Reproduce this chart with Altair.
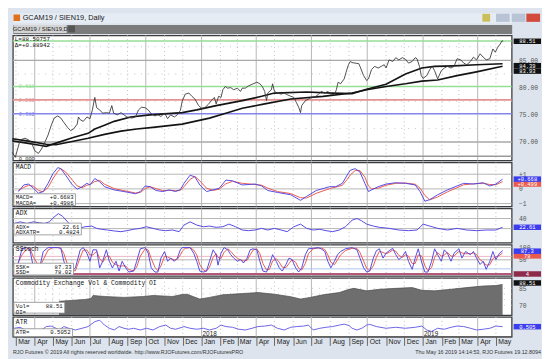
import altair as alt
import pandas as pd

# ---------------- data (x stored as calendar days counted from 2018-01-01) ----------------
price_day = [-312,-307,-299,-291,-285,-280,-275,-269,-264,-259,
             -253,-248,-243,-237,-232,-227,-221,-216,-211,-205,
             -203,-200,-195,-189,-184,-180,-176,-173,-168,-163,
             -157,-152,-148,-145,-139,-133,-128,-123,-115,-109,
             -104,-99,-93,-88,-83,-77,-72,-67,-61,-56,
             -51,-45,-40,-35,-32,-27,-21,-16,-11,-5,
             0,5,11,16,21,24,28,32,35,39,
             43,48,53,59,64,67,72,77,83,91,
             96,100,104,107,109,115,117,120,125,131,
             136,141,147,152,156,160,163,165,171,176,
             181,187,192,197,203,208,213,219,222,225,
             229,235,238,242,245,248,253,259,261,267,
             272,275,280,285,291,296,301,304,309,315,
             320,325,331,336,341,347,352,355,359,362,
             365,371,376,380,384,389,395,400,405,411,
             416,421,427,432,437,443,448,453,459,464,
             469,475,480,484,488,492,495,497]
price_val = [68.1,67.2,70.4,70.7,70.4,69.8,68.4,67.9,68.7,69.8,
             71.3,73.0,74.4,74.8,74.4,73.6,72.7,72.1,72.4,73.3,
             74.6,74.1,73.8,74.6,74.3,75.9,78.2,76.3,75.9,75.3,
             75.4,75.3,76.7,75.3,75.0,75.4,75.0,74.6,74.4,74.6,
             75.9,76.4,76.3,75.9,75.2,74.8,75.0,74.7,75.3,74.3,
             75.0,74.6,75.0,75.8,77.5,78.8,79.0,78.4,77.9,76.7,
             76.2,76.3,76.9,77.6,78.2,77.0,78.4,78.2,79.6,80.2,
             79.9,80.0,79.6,79.9,79.3,79.9,79.9,80.3,80.6,81.0,
             80.7,80.2,79.3,77.6,79.0,79.6,80.7,79.3,79.0,78.8,
             79.0,78.7,78.4,78.2,77.3,76.4,75.4,76.7,77.6,77.9,
             78.2,78.3,78.7,79.3,79.0,79.3,78.8,78.7,79.6,81.0,
             80.7,81.6,82.8,84.2,84.8,84.6,84.5,84.4,83.9,82.2,
             81.3,81.6,83.3,83.9,83.6,83.9,84.2,83.6,85.1,84.8,
             85.5,85.1,85.5,85.2,84.5,84.8,85.5,85.3,83.9,82.2,
             81.7,82.2,83.3,83.9,83.1,81.6,83.1,83.6,83.9,83.6,
             83.9,85.3,85.1,84.5,84.2,84.8,85.6,85.1,86.2,85.6,
             85.1,85.3,87.1,86.5,87.4,88.0,88.6,88.51]

ma_fast_day = [-312,-288,-267,-256,-240,-213,-187,-176,-160,-144,
               -117,-85,-32,-8,24,67,99,120,173,216,
               248,272,304,336,363,384,416,453,496]
ma_fast_val = [70.2,69.8,69.4,69.2,69.8,70.8,71.6,72.4,73.1,73.8,
               74.6,75.0,75.4,75.9,76.7,77.6,78.4,79.0,79.2,79.0,
               78.9,79.7,80.6,82.5,83.6,83.9,84.0,84.2,84.39]
ma_slow_day = [-312,-288,-256,-240,-187,-160,-133,-107,-80,-32,
               13,40,67,104,147,200,248,272,304,336,
               363,389,421,453,496]
ma_slow_val = [70.6,70.2,69.6,69.5,70.7,71.4,72.0,72.4,72.7,73.3,
               74.4,75.3,76.2,77.0,77.9,78.4,79.0,79.6,80.2,80.7,
               81.2,81.4,82.2,82.9,83.93]

fib_names = ["0.000", "0.382", "0.500", "0.618"]
fib_values = [67.4, 75.2, 77.75, 80.2]
fib_colors = ["#9a9a9a", "#8585ee", "#e59292", "#96de96"]
top_green = 88.55
price_solid_grid = [70, 85]
price_dot_grid = [72.5, 77.5, 82.5, 87.5]
price_ticks = [70, 75, 80, 85]

macd_day = [-302,-293,-285,-277,-269,-261,-253,-245,-237,-232,
            -224,-213,-205,-197,-189,-184,-176,-168,-160,-144,
            -128,-109,-101,-93,-85,-75,-64,-53,-43,-35,
            -29,-19,-11,-3,8,19,29,40,51,67,
            88,99,109,125,147,163,173,189,211,221,
            232,240,245,253,261,269,275,280,291,304,
            320,336,352,360,368,376,389,405,421,432,
            448,464,475,485,496]
macd_val = [-0.18,0.27,0.33,0.04,-0.29,-0.18,0.38,1.04,1.45,1.38,
            0.93,0.27,-0.02,0.15,0.38,0.27,0.71,0.49,0.15,-0.07,
            -0.18,-0.33,-0.18,0.20,0.15,-0.11,-0.18,-0.07,-0.18,-0.05,
            0.38,0.93,0.82,0.27,-0.18,-0.07,0.04,0.60,0.55,0.27,
            0.33,0.20,-0.11,-0.24,-0.40,-0.78,-0.51,-0.11,0.15,0.15,
            0.38,0.95,1.27,1.38,1.15,0.38,-0.18,-0.07,0.15,0.33,
            0.42,0.38,0.27,-0.18,-0.84,-0.73,-0.40,-0.07,0.20,0.38,
            0.33,0.42,0.20,0.33,0.6683]
macda_val = [-0.10,0.10,0.25,0.18,-0.10,-0.20,0.10,0.70,1.20,1.38,
             1.15,0.60,0.20,0.08,0.25,0.30,0.50,0.58,0.32,0.02,
             -0.12,-0.28,-0.25,0.02,0.15,0.02,-0.12,-0.10,-0.12,-0.10,
             0.15,0.65,0.85,0.55,0.05,-0.10,-0.02,0.35,0.52,0.38,
             0.30,0.25,0.05,-0.18,-0.32,-0.60,-0.62,-0.30,0.02,0.12,
             0.25,0.65,0.95,1.25,1.25,0.80,0.20,0.00,0.05,0.25,
             0.38,0.40,0.32,0.05,-0.45,-0.75,-0.55,-0.20,0.08,0.28,
             0.35,0.38,0.30,0.28,0.4986]

adx_day = [-309,-299,-288,-277,-267,-259,-251,-243,-236,-229,
           -221,-213,-203,-192,-181,-173,-165,-155,-144,-133,
           -123,-112,-101,-91,-80,-69,-59,-48,-37,-29,
           -19,-8,3,13,24,35,45,56,67,77,
           88,99,109,120,131,141,152,163,173,184,
           195,205,216,227,237,248,256,264,272,283,
           293,309,325,341,355,365,376,389,405,421,
           437,453,469,485,496]
adx_val = [30.2,33.4,30.2,33.4,31.4,30.2,33.4,43.0,49.7,44.4,
           33.4,23.7,20.5,23.7,25.0,20.5,18.6,17.2,15.3,13.9,
           15.9,18.6,20.5,23.7,20.5,17.2,15.9,17.2,13.9,27.0,
           33.4,27.0,23.7,25.0,22.5,23.7,28.9,23.7,17.2,15.9,
           17.2,20.5,17.2,20.5,17.2,13.9,23.7,28.9,20.5,17.2,
           18.6,15.9,13.9,17.2,23.7,36.7,40.0,35.3,28.9,25.0,
           22.5,20.5,17.2,15.9,17.2,28.9,25.0,20.5,17.2,20.5,
           17.2,15.9,17.2,17.2,22.61]

stoch_day = [-304,-296,-288,-283,-277,-267,-261,-253,-245,-237,
             -232,-227,-221,-216,-208,-200,-195,-189,-184,-179,
             -173,-168,-163,-157,-152,-147,-141,-136,-131,-125,
             -120,-112,-107,-101,-93,-88,-83,-77,-72,-67,
             -61,-56,-51,-45,-40,-35,-32,-27,-19,-13,
             -8,-3,3,8,13,19,24,27,32,37,
             43,48,53,59,64,69,75,80,85,91,
             96,101,107,112,117,123,128,133,139,144,
             149,155,160,165,171,176,184,192,197,203,
             208,213,219,224,229,237,248,256,261,267,
             272,277,283,288,293,299,304,309,315,320,
             325,331,336,341,347,352,357,363,368,373,
             379,384,389,395,400,405,411,416,424,429,
             435,443,448,453,459,464,469,475,480,485,
             491,496]
ssk_val = [17,95,100,91,17,17,84,100,100,100,
           97,44,4,0,17,91,100,77,44,91,
           91,17,44,91,44,17,44,4,44,17,
           0,4,44,95,100,77,17,0,0,57,
           84,44,57,44,57,91,100,100,100,77,
           44,4,0,4,44,91,71,28,77,100,
           91,71,57,44,51,37,57,91,95,91,
           44,4,0,31,71,44,17,4,31,57,
           51,17,0,17,71,95,97,100,95,84,
           44,17,44,71,84,95,100,91,57,17,
           0,4,57,87,95,57,77,87,97,71,
           51,64,84,44,11,57,95,37,0,0,
           44,95,71,44,91,77,44,77,95,57,
           84,71,84,57,31,44,11,44,84,51,
           77,87.33]
ssd_val = [30,70,95,97,60,20,50,90,100,100,
           98,75,30,8,5,60,90,90,70,70,
           85,55,40,65,65,40,30,25,25,25,
           10,5,20,65,95,90,55,20,5,25,
           65,62,55,50,52,70,85,97,100,90,
           70,30,8,3,20,60,75,60,55,80,
           95,85,70,55,50,45,48,70,90,95,
           75,35,8,12,45,55,40,20,18,35,
           50,40,15,8,35,75,95,98,98,92,
           70,40,30,50,70,88,97,97,80,45,
           15,5,25,60,85,80,75,80,90,85,
           68,60,70,65,35,35,70,65,25,5,
           18,60,80,65,70,80,65,65,85,78,
           75,75,78,72,50,42,28,30,55,62,
           68,78.02]

oi_day = [-235,-192,-182,-179,-160,-128,-96,-80,-48,-32,
          -24,-3,13,35,67,93,120,147,163,179,
          200,227,243,251,272,293,320,347,363,384,
          411,437,464,485,496]
oi_val = [73.5,75.2,76.0,78.7,77.8,77.0,77.8,78.7,77.8,79.6,
          79.8,75.5,77.0,79.3,80.4,81.3,79.8,77.6,75.5,77.0,
          79.3,81.3,84.2,85.0,82.8,84.2,85.0,85.7,83.3,82.8,
          84.2,85.7,87.1,87.5,88.51]

atr_day = [-309,-299,-291,-283,-264,-256,-248,-240,-235,-227,
           -219,-208,-197,-187,-176,-168,-160,-152,-144,-136,
           -128,-120,-112,-101,-91,-80,-69,-59,-51,-43,
           -32,-29,-19,-8,3,13,24,32,40,51,
           61,72,83,93,104,115,125,136,147,157,
           168,176,184,195,205,216,227,235,243,248,
           256,264,272,277,288,304,320,336,352,363,
           371,379,389,400,411,421,432,443,453,464,
           475,485,496]
atr_val = [0.44,0.48,0.37,0.40,0.37,0.51,0.53,0.44,0.37,0.51,
           0.44,0.37,0.44,0.51,0.71,0.77,0.57,0.44,0.37,0.51,
           0.44,0.40,0.44,0.37,0.44,0.37,0.51,0.57,0.44,0.40,
           0.48,0.51,0.44,0.40,0.44,0.37,0.44,0.57,0.51,0.48,
           0.40,0.37,0.44,0.51,0.53,0.57,0.44,0.37,0.48,0.51,
           0.53,0.57,0.37,0.44,0.48,0.51,0.57,0.61,0.55,0.44,
           0.37,0.44,0.57,0.60,0.51,0.44,0.48,0.44,0.48,0.53,
           0.37,0.31,0.44,0.40,0.48,0.53,0.51,0.44,0.37,0.40,
           0.44,0.53,0.5052]

year_dates = ["2018-01-01", "2019-01-01"]
year_labels = ["2018", "2019"]

# ---------------- helpers ----------------
BASE = pd.Timestamp("2018-01-01")


def to_dates(days):
    return [(BASE + pd.Timedelta(days=int(d))).strftime("%Y-%m-%d") for d in days]


W = 510
MONO = "Liberation Mono"
SANS = "Liberation Sans"
BLUE = "#5449e2"
RED = "#ea5a4e"
BOX = "M-1,-0.2H1V0.2H-1Z"
CLEAR = alt.ViewBackground(fill="transparent", stroke="transparent")

XS = alt.Scale(domain=[alt.DateTime(year=2017, month=2, date=24),
                       alt.DateTime(year=2019, month=5, date=27)])
months = pd.date_range("2017-03-01", "2019-05-01", freq="MS")
month_df = pd.DataFrame({"date": [m.strftime("%Y-%m-%d") for m in months],
                         "q": [m.month in (1, 4, 7, 10) for m in months]})


def xenc():
    return alt.X("date:T", scale=XS, axis=None)


def xaxis_enc():
    return alt.X("date:T", scale=XS, axis=alt.Axis(
        values=[alt.DateTime(year=int(m.year), month=int(m.month), date=1) for m in months],
        format="%b", labelAlign="left", labelBaseline="top", labelPadding=-8,
        labelOffset=2, tickSize=9, tickColor="#666", domainColor="#555",
        labelFont=SANS, labelFontSize=7, labelColor="#222", grid=False,
        title=None, labelFlush=False, labelOverlap=False))


def yenc(dom, ticks, fmt=None, expr=None):
    ax = dict(orient="right", values=ticks, grid=False, ticks=False, domain=False,
              labelFont=MONO, labelFontSize=6.5, labelColor="#555", title=None,
              labelPadding=7)
    if fmt:
        ax["format"] = fmt
    if expr:
        ax["labelExpr"] = expr
    return alt.Y("v:Q", scale=alt.Scale(domain=dom, nice=False, zero=False),
                 axis=alt.Axis(**ax))


def vgrid(xe):
    a = alt.Chart(month_df[month_df.q]).mark_rule(color="#b6b6b6", strokeWidth=1).encode(x=xe)
    b = alt.Chart(month_df[~month_df.q]).mark_rule(color="#bdbdbd", strokeWidth=1,
                                                   strokeDash=[1, 3]).encode(x=xe)
    return [a, b]


def hlines(y, vals, color, width=1.0, dash=None):
    kw = dict(color=color, strokeWidth=width)
    if dash:
        kw["strokeDash"] = dash
    return alt.Chart(pd.DataFrame({"v": vals})).mark_rule(**kw).encode(y=y)


def line(days, vals, y, color, width, xe=None):
    df = pd.DataFrame({"date": to_dates(days), "v": vals})
    return alt.Chart(df).mark_line(color=color, strokeWidth=width).encode(
        x=xe if xe is not None else xenc(), y=y)


def tags(y, vals, texts, colors, shifts):
    """Value boxes on the right edge; shifts stack boxes that would collide."""
    out = []
    for v, t, c, s in zip(vals, texts, colors, shifts):
        df = pd.DataFrame({"v": [v], "t": [t]})
        out.append(alt.Chart(df).mark_point(shape=BOX, filled=True, size=784, opacity=1,
                                            strokeWidth=0, color=c, yOffset=s).encode(
            x=alt.value(W + 16), y=y))
        out.append(alt.Chart(df).mark_text(font=MONO, fontSize=5.6, color="white",
                                           yOffset=s).encode(
            x=alt.value(W + 16), y=y, text="t:N"))
    return out


def name_text(name):
    return alt.Chart(pd.DataFrame({"t": [name]})).mark_text(
        font=MONO, fontSize=6.5, align="left", baseline="top", color="#111").encode(
        x=alt.value(3), y=alt.value(2), text="t:N")


def info_box(y0, y1, w, left, right):
    d = pd.DataFrame({"a": [left], "b": [right]})
    r = alt.Chart(d).mark_rect(fill="white", stroke="#8a8a8a", strokeWidth=0.8).encode(
        x=alt.value(1), x2=alt.value(w), y=alt.value(y0), y2=alt.value(y1))
    t1 = alt.Chart(d).mark_text(font=MONO, fontSize=5.8, align="left", baseline="top",
                                lineBreak="\n", lineHeight=6, color="#111").encode(
        x=alt.value(3), y=alt.value(y0 + 0.5), text="a:N")
    t2 = alt.Chart(d).mark_text(font=MONO, fontSize=5.8, align="right", baseline="top",
                                lineBreak="\n", lineHeight=6, color="#111").encode(
        x=alt.value(w - 2), y=alt.value(y0 + 0.5), text="b:N")
    return [r, t1, t2]


PANEL_VIEW = alt.ViewBackground(fill="white", stroke="#3c3c3c", strokeWidth=1.3)

# ---------------- price panel ----------------
yp = yenc([66.6, 89.6], price_ticks, fmt=".2f")
fib_df = pd.DataFrame({"v": fib_values[1:], "t": fib_names[1:], "c": fib_colors[1:]})
zero_df = pd.DataFrame({"v": fib_values[:1], "t": fib_names[:1]})
price_layers = vgrid(xenc()) + [
    hlines(yp, price_dot_grid, "#c4c4c4", 1, [1, 6]),
    hlines(yp, price_solid_grid, "#a9a9a9", 1.5),
    hlines(yp, [top_green], "#96de96", 1.5),
]
for v, c in zip(fib_values, fib_colors):
    price_layers.append(hlines(yp, [v], c, 1.6))
price_layers += [
    line(ma_slow_day, ma_slow_val, yp, "#141414", 1.7),
    line(ma_fast_day, ma_fast_val, yp, "#141414", 1.7),
    line(price_day, price_val, yp, "#3a3a3a", 0.9),
    alt.Chart(fib_df).mark_text(font=MONO, fontSize=5.5, align="left", baseline="middle").encode(
        x=alt.value(6), y=yp, text="t:N", color=alt.Color("c:N", scale=None)),
    alt.Chart(zero_df).mark_text(font=MONO, fontSize=5.5, align="left", baseline="top",
                                 dy=1, color="#222").encode(x=alt.value(6), y=yp, text="t:N"),
    alt.Chart(pd.DataFrame({"t": ["L=88.50757\nΔ=+0.88942"]})).mark_text(
        font=MONO, fontSize=6, align="left", baseline="top", lineBreak="\n",
        lineHeight=6, color="#111").encode(x=alt.value(2), y=alt.value(1), text="t:N"),
]
price_layers += tags(yp, [83.93, 84.39, 88.51], ["83.93", "84.39", "88.51"],
                     ["#111111", "#111111", "#111111"], [5, 2, 0])
price = alt.layer(*price_layers).properties(width=W, height=128, view=PANEL_VIEW)

# ---------------- MACD ----------------
ym = yenc([-1.2, 1.8], [-1, 0, 1], expr="datum.value > 0 ? '+' + datum.label : datum.label")
macd_layers = vgrid(xenc()) + [
    hlines(ym, [-1, 0, 1], "#b4b4b4", 1),
    line(macd_day, macda_val, ym, RED, 1),
    line(macd_day, macd_val, ym, BLUE, 1),
    name_text("MACD"),
] + info_box(32, 44, 64, "MACD=\nMACDA=", "+0.6683\n+0.4986") + \
    tags(ym, [0.4986, 0.6683], ["+0.499", "+0.668"], [RED, "#3d3df0"], [2.5, 0])
macd = alt.layer(*macd_layers).properties(width=W, height=45, view=PANEL_VIEW)

# ---------------- ADX ----------------
ya = yenc([-8, 60], [40])
adx_layers = vgrid(xenc()) + [
    hlines(ya, [40, 20], "#b4b4b4", 1),
    line(adx_day, adx_val, ya, BLUE, 1),
    name_text("ADX"),
] + info_box(15, 27, 70, "ADX=\nADXATR=", "22.61\n0.4824") + \
    tags(ya, [22.61], ["22.61"], ["#3d3df0"], [0])
adx = alt.layer(*adx_layers).properties(width=W, height=35, view=PANEL_VIEW)

# ---------------- SStoch ----------------
ys = yenc([-16, 112], [100, 50])
stoch_layers = vgrid(xenc()) + [
    hlines(ys, [100, 50], "#b4b4b4", 1),
    hlines(ys, [64], "#eab6c4", 1),
    hlines(ys, [13], "#a9c6f2", 1),
    hlines(ys, [-8], "#b45a78", 2),
    line(stoch_day, ssd_val, ys, RED, 1),
    line(stoch_day, ssk_val, ys, BLUE, 1),
    name_text("SStoch"),
] + info_box(19, 31, 62, "SSK=\nSSD=", "87.33\n78.02") + \
    tags(ys, [-8, 78.02, 87.33], ["4", "78", "87.3"], ["#8e2a4a", RED, "#3d3df0"],
         [0, 3, 0.5])
stoch = alt.layer(*stoch_layers).properties(width=W, height=32, view=PANEL_VIEW)

# ---------------- Volume & OI ----------------
yv = yenc([61.3, 94.3], [70, 75, 80, 85], fmt="d")
oi_df = pd.DataFrame({"date": to_dates(oi_day), "v": oi_val})
vol_layers = vgrid(xenc()) + [
    hlines(yv, [70, 75, 80, 85], "#c4c4c4", 1, [1, 6]),
    alt.Chart(oi_df).mark_area(color="#6e6e6e", opacity=1,
                               line=alt.OverlayMarkDef(color="#4a4a4a", strokeWidth=0.7)).encode(
        x=xenc(), y=yv, y2=alt.datum(61.3)),
    name_text("Commodity Exchange Vol & Commodity OI"),
] + info_box(25, 36, 53, "Vol=\nOI=", "88.51\n") + \
    tags(yv, [88.51], ["88.51"], ["#111111"], [-1.5])
vol = alt.layer(*vol_layers).properties(width=W, height=38, view=PANEL_VIEW)

# ---------------- ATR ----------------
yt = yenc([0.1, 0.9], [])
xa = xaxis_enc()
yr_df = pd.DataFrame({"date": year_dates, "t": year_labels})
atr_layers = vgrid(xa) + [
    line(atr_day, atr_val, yt, "#6a63e6", 1, xe=xa),
    alt.Chart(yr_df).mark_text(font=SANS, fontSize=6.5, align="left", baseline="bottom",
                               dx=1, color="#222").encode(x=xa, y=alt.value(20), text="t:N"),
    name_text("ATR"),
] + info_box(12, 20, 61, "ATR=", "0.5052") + \
    tags(yt, [0.5052], ["0.505"], ["#3d3df0"], [0])
atr = alt.layer(*atr_layers).properties(width=W, height=20, view=PANEL_VIEW)

# ---------------- window chrome ----------------
one = pd.DataFrame({"t": ["GCAM19 / SIEN19, Daily"]})
header = alt.layer(
    alt.Chart(one).mark_point(shape="square", filled=True, size=45, opacity=1,
                              color="#e0701e").encode(x=alt.value(4), y=alt.value(5)),
    alt.Chart(one).mark_text(font=SANS, fontSize=7.5, align="left", baseline="middle",
                             color="#1a1a1a").encode(x=alt.value(10), y=alt.value(5), text="t:N"),
    alt.Chart(one).mark_point(shape="M-1,-1H1V1H-1Z", filled=True, size=64, opacity=1,
                              color="#cbbf5a").encode(x=alt.value(W - 26), y=alt.value(5)),
    alt.Chart(one).mark_point(shape="M-1,-0.6H1V0.6H-1Z", filled=True, size=196, opacity=1,
                              color="#b9c3d6").encode(x=alt.value(W - 9), y=alt.value(5)),
    alt.Chart(one).mark_point(shape="M-1,-0.6H1V0.6H-1Z", filled=True, size=196, opacity=1,
                              color="#b9c3d6").encode(x=alt.value(W + 7), y=alt.value(5)),
    alt.Chart(one).mark_point(shape="M-1,-0.6H1V0.6H-1Z", filled=True, size=196, opacity=1,
                              color="#d24a3c").encode(x=alt.value(W + 22), y=alt.value(5)),
).properties(width=W, height=10,
             view=alt.ViewBackground(fill="#e6ecf4", stroke="transparent"))

tab_df = pd.DataFrame({"t": ["GCAM19 / SIEN19,D"]})
tab = alt.layer(
    alt.Chart(tab_df).mark_point(shape="M-1,-0.15H1V0.15H-1Z", filled=True, size=2916,
                                 opacity=1, color="#d4d4d4").encode(
        x=alt.value(28), y=alt.value(4.5)),
    alt.Chart(tab_df).mark_text(font=SANS, fontSize=6, color="#222").encode(
        x=alt.value(28), y=alt.value(4.5), text="t:N"),
    alt.Chart(tab_df).mark_point(shape="M-1,-1H1V1H-1Z", filled=True, size=49,
                                 opacity=1, color="#555555").encode(
        x=alt.value(60), y=alt.value(4.5)),
).properties(width=W, height=9,
             view=alt.ViewBackground(fill="#7b7b7b", stroke="transparent"))

spacer = alt.Chart(pd.DataFrame({"t": [""]})).mark_text().encode(
    x=alt.value(0), y=alt.value(0), text="t:N").properties(width=W, height=8, view=CLEAR)

foot_df = pd.DataFrame({"l": ["RJO Futures \u00a9 2019 All rights reserved worldwide. http://www.RJOFutures.com/RJOFuturesPRO"],
                        "r": ["Thu May 16 2019 14:14:53, RJO Futures 19.12.8094"]})
footer = alt.layer(
    alt.Chart(foot_df).mark_text(font=SANS, fontSize=5.5, align="left", baseline="middle",
                                 color="#333").encode(x=alt.value(0), y=alt.value(4), text="l:N"),
    alt.Chart(foot_df).mark_text(font=SANS, fontSize=5.5, align="right", baseline="middle",
                                 color="#333").encode(x=alt.value(W + 30), y=alt.value(4), text="r:N"),
).properties(width=W, height=8, view=CLEAR)

chart = alt.vconcat(header, tab, price, macd, adx, stoch, vol, atr, spacer, footer,
                    spacing=2, bounds="flush").properties(
    padding=0, background="#dde4ed"
).configure_view(fill="white", stroke="#3c3c3c")

chart.save("out.html", embed_options={"renderer": "svg", "actions": False})
